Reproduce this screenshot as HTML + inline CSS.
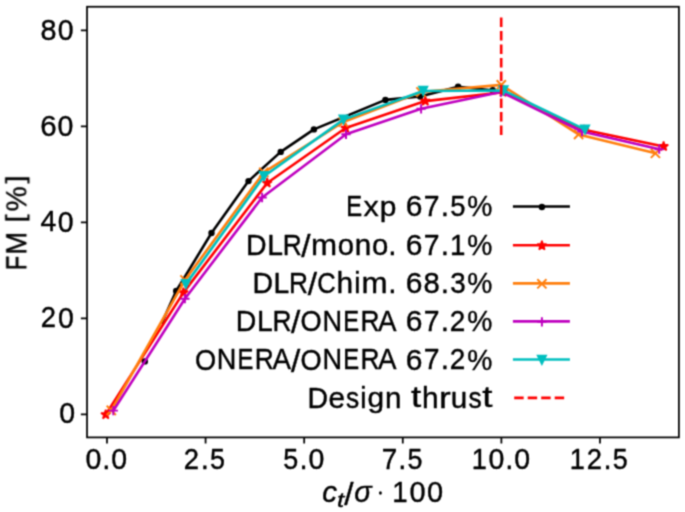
<!DOCTYPE html>
<html><head><meta charset="utf-8"><style>
html,body{margin:0;padding:0;background:#fff;width:685px;height:512px;overflow:hidden}
</style></head><body><div style="position:absolute;left:0;top:0;width:685px;height:512px">
<svg width="685" height="512" viewBox="0 0 685 512" style="position:absolute;left:0;top:0;font-family:'Liberation Sans', sans-serif"><style>text{stroke:#000;stroke-width:0.4px;vector-effect:non-scaling-stroke;stroke-linejoin:round}</style>
<rect width="685" height="512" fill="#fff"/>
<filter id="bl" x="0" y="0" width="685" height="512" filterUnits="userSpaceOnUse" color-interpolation-filters="sRGB"><feConvolveMatrix order="3" kernelMatrix="0.04387 0.12171 0.04387 0.12171 0.33767 0.12171 0.04387 0.12171 0.04387" divisor="1" edgeMode="duplicate" preserveAlpha="true"/></filter><g filter="url(#bl)"><rect width="685" height="512" fill="#fff"/>
<defs><clipPath id="clip"><rect x="87.02" y="6.75" width="591.88" height="430.65"/></clipPath></defs>
<g clip-path="url(#clip)">
<polyline points="162,322.5 176.2,291 211.5,233 248.5,181.1 280.7,151.9 313.9,129.4 385.4,99.9 420.1,96.5 458.1,86.7 492.7,90.3" fill="none" stroke="#000000" stroke-width="2.6" stroke-linejoin="round" stroke-linecap="square"/>
<circle cx="144.80" cy="361.40" r="3.2" fill="#000000"/>
<circle cx="176.20" cy="291.00" r="3.2" fill="#000000"/>
<circle cx="211.50" cy="233.00" r="3.2" fill="#000000"/>
<circle cx="248.50" cy="181.10" r="3.2" fill="#000000"/>
<circle cx="280.70" cy="151.90" r="3.2" fill="#000000"/>
<circle cx="313.90" cy="129.40" r="3.2" fill="#000000"/>
<circle cx="385.40" cy="99.90" r="3.2" fill="#000000"/>
<circle cx="420.10" cy="96.50" r="3.2" fill="#000000"/>
<circle cx="458.10" cy="86.70" r="3.2" fill="#000000"/>
<circle cx="492.70" cy="90.30" r="3.2" fill="#000000"/>
<polyline points="105.7,414.6 183.4,292.6 267.2,183 345.6,128 425.3,101.1 503,92.2 584,129.8 663.6,146.4" fill="none" stroke="#ff0000" stroke-width="2.6" stroke-linejoin="round" stroke-linecap="square"/>
<polygon points="105.70,409.70 106.80,413.09 110.36,413.09 107.48,415.18 108.58,418.56 105.70,416.47 102.82,418.56 103.92,415.18 101.04,413.09 104.60,413.09" fill="#ff0000" stroke="#ff0000" stroke-width="1.6" stroke-linejoin="bevel"/>
<polygon points="183.40,287.70 184.50,291.09 188.06,291.09 185.18,293.18 186.28,296.56 183.40,294.47 180.52,296.56 181.62,293.18 178.74,291.09 182.30,291.09" fill="#ff0000" stroke="#ff0000" stroke-width="1.6" stroke-linejoin="bevel"/>
<polygon points="267.20,178.10 268.30,181.49 271.86,181.49 268.98,183.58 270.08,186.96 267.20,184.87 264.32,186.96 265.42,183.58 262.54,181.49 266.10,181.49" fill="#ff0000" stroke="#ff0000" stroke-width="1.6" stroke-linejoin="bevel"/>
<polygon points="345.60,123.10 346.70,126.49 350.26,126.49 347.38,128.58 348.48,131.96 345.60,129.87 342.72,131.96 343.82,128.58 340.94,126.49 344.50,126.49" fill="#ff0000" stroke="#ff0000" stroke-width="1.6" stroke-linejoin="bevel"/>
<polygon points="425.30,96.20 426.40,99.59 429.96,99.59 427.08,101.68 428.18,105.06 425.30,102.97 422.42,105.06 423.52,101.68 420.64,99.59 424.20,99.59" fill="#ff0000" stroke="#ff0000" stroke-width="1.6" stroke-linejoin="bevel"/>
<polygon points="503.00,87.30 504.10,90.69 507.66,90.69 504.78,92.78 505.88,96.16 503.00,94.07 500.12,96.16 501.22,92.78 498.34,90.69 501.90,90.69" fill="#ff0000" stroke="#ff0000" stroke-width="1.6" stroke-linejoin="bevel"/>
<polygon points="584.00,124.90 585.10,128.29 588.66,128.29 585.78,130.38 586.88,133.76 584.00,131.67 581.12,133.76 582.22,130.38 579.34,128.29 582.90,128.29" fill="#ff0000" stroke="#ff0000" stroke-width="1.6" stroke-linejoin="bevel"/>
<polygon points="663.60,141.50 664.70,144.89 668.26,144.89 665.38,146.98 666.48,150.36 663.60,148.27 660.72,150.36 661.82,146.98 658.94,144.89 662.50,144.89" fill="#ff0000" stroke="#ff0000" stroke-width="1.6" stroke-linejoin="bevel"/>
<polyline points="111.3,410.4 185,280 263.8,172.4 343.3,122 421,92 501.3,84.9 578.6,134.4 655.4,153.3" fill="none" stroke="#ff7f0e" stroke-width="2.6" stroke-linejoin="round" stroke-linecap="square"/>
<path d="M106.70 405.80L115.90 415.00M106.70 415.00L115.90 405.80" stroke="#ff7f0e" stroke-width="1.95" fill="none"/>
<path d="M180.40 275.40L189.60 284.60M180.40 284.60L189.60 275.40" stroke="#ff7f0e" stroke-width="1.95" fill="none"/>
<path d="M259.20 167.80L268.40 177.00M259.20 177.00L268.40 167.80" stroke="#ff7f0e" stroke-width="1.95" fill="none"/>
<path d="M338.70 117.40L347.90 126.60M338.70 126.60L347.90 117.40" stroke="#ff7f0e" stroke-width="1.95" fill="none"/>
<path d="M416.40 87.40L425.60 96.60M416.40 96.60L425.60 87.40" stroke="#ff7f0e" stroke-width="1.95" fill="none"/>
<path d="M496.70 80.30L505.90 89.50M496.70 89.50L505.90 80.30" stroke="#ff7f0e" stroke-width="1.95" fill="none"/>
<path d="M574.00 129.80L583.20 139.00M574.00 139.00L583.20 129.80" stroke="#ff7f0e" stroke-width="1.95" fill="none"/>
<path d="M650.80 148.70L660.00 157.90M650.80 157.90L660.00 148.70" stroke="#ff7f0e" stroke-width="1.95" fill="none"/>
<polyline points="113.3,410.6 184.9,298.7 262.1,197.5 346,134.3 421.1,108.8 501,92 582,131.5 659.2,149.2" fill="none" stroke="#bf00bf" stroke-width="2.6" stroke-linejoin="round" stroke-linecap="square"/>
<path d="M108.65 410.60H117.95M113.30 405.95V415.25" stroke="#bf00bf" stroke-width="1.95" fill="none"/>
<path d="M180.25 298.70H189.55M184.90 294.05V303.35" stroke="#bf00bf" stroke-width="1.95" fill="none"/>
<path d="M257.45 197.50H266.75M262.10 192.85V202.15" stroke="#bf00bf" stroke-width="1.95" fill="none"/>
<path d="M341.35 134.30H350.65M346.00 129.65V138.95" stroke="#bf00bf" stroke-width="1.95" fill="none"/>
<path d="M416.45 108.80H425.75M421.10 104.15V113.45" stroke="#bf00bf" stroke-width="1.95" fill="none"/>
<path d="M496.35 92.00H505.65M501.00 87.35V96.65" stroke="#bf00bf" stroke-width="1.95" fill="none"/>
<path d="M577.35 131.50H586.65M582.00 126.85V136.15" stroke="#bf00bf" stroke-width="1.95" fill="none"/>
<path d="M654.55 149.20H663.85M659.20 144.55V153.85" stroke="#bf00bf" stroke-width="1.95" fill="none"/>
<polyline points="185.9,284.1 264,176.2 343.5,119.6 423.2,91 503.5,90.5 585,129.6" fill="none" stroke="#00bfbf" stroke-width="2.6" stroke-linejoin="round" stroke-linecap="square"/>
<polygon points="185.90,288.50 181.50,279.70 190.30,279.70" fill="#00bfbf" stroke="#00bfbf" stroke-width="1.5" stroke-linejoin="miter"/>
<polygon points="264.00,180.60 259.60,171.80 268.40,171.80" fill="#00bfbf" stroke="#00bfbf" stroke-width="1.5" stroke-linejoin="miter"/>
<polygon points="343.50,124.00 339.10,115.20 347.90,115.20" fill="#00bfbf" stroke="#00bfbf" stroke-width="1.5" stroke-linejoin="miter"/>
<polygon points="423.20,95.40 418.80,86.60 427.60,86.60" fill="#00bfbf" stroke="#00bfbf" stroke-width="1.5" stroke-linejoin="miter"/>
<polygon points="503.50,94.90 499.10,86.10 507.90,86.10" fill="#00bfbf" stroke="#00bfbf" stroke-width="1.5" stroke-linejoin="miter"/>
<polygon points="585.00,134.00 580.60,125.20 589.40,125.20" fill="#00bfbf" stroke="#00bfbf" stroke-width="1.5" stroke-linejoin="miter"/>
<line x1="501.2" y1="17.5" x2="501.2" y2="135.2" stroke="#ff0000" stroke-width="2.6" stroke-dasharray="9.45 4.05"/>
</g>
<rect x="87.02" y="6.75" width="591.88" height="430.65" fill="none" stroke="#000" stroke-width="1.75"/>
<path d="M80.87 414.37H87.02M80.87 318.39H87.02M80.87 222.41H87.02M80.87 126.43H87.02M80.87 30.45H87.02M106.98 437.40V443.55M205.58 437.40V443.55M304.18 437.40V443.55M402.78 437.40V443.55M501.38 437.40V443.55M599.98 437.40V443.55" stroke="#000" stroke-width="1.75" fill="none"/>
<text transform="translate(40.52 39.66) scale(0.9921 0.9946)" font-size="29.0">8</text>
<text transform="translate(57.78 39.66) scale(0.9814 0.9946)" font-size="29.0">0</text>
<text transform="translate(40.13 135.61) scale(1.0158 0.9946)" font-size="29.0">6</text>
<text transform="translate(57.58 135.61) scale(0.9814 0.9946)" font-size="29.0">0</text>
<text transform="translate(40.60 231.46) scale(0.9816 0.9865)" font-size="29.0">4</text>
<text transform="translate(57.78 231.56) scale(0.9814 0.9946)" font-size="29.0">0</text>
<text transform="translate(40.63 327.41) scale(0.9460 0.9896)" font-size="29.0">2</text>
<text transform="translate(57.88 327.51) scale(0.9814 0.9946)" font-size="29.0">0</text>
<text transform="translate(59.18 423.46) scale(0.9814 0.9946)" font-size="29.0">0</text>
<text transform="translate(85.56 469.13) scale(0.9814 0.9946)" font-size="29.0">0</text>
<text transform="translate(102.28 469.03) scale(1.0074 1.0798)" font-size="29.0">.</text>
<text transform="translate(111.32 469.13) scale(0.9814 0.9946)" font-size="29.0">0</text>
<text transform="translate(183.87 469.03) scale(0.9460 0.9896)" font-size="29.0">2</text>
<text transform="translate(200.67 469.03) scale(1.0074 1.0798)" font-size="29.0">.</text>
<text transform="translate(210.04 469.13) scale(0.9262 0.9916)" font-size="29.0">5</text>
<text transform="translate(283.19 469.13) scale(0.9262 0.9916)" font-size="29.0">5</text>
<text transform="translate(299.58 469.03) scale(1.0074 1.0798)" font-size="29.0">.</text>
<text transform="translate(308.61 469.13) scale(0.9814 0.9946)" font-size="29.0">0</text>
<text transform="translate(381.64 469.03) scale(0.9600 0.9865)" font-size="29.0">7</text>
<text transform="translate(398.25 469.03) scale(1.0074 1.0798)" font-size="29.0">.</text>
<text transform="translate(407.62 469.13) scale(0.9262 0.9916)" font-size="29.0">5</text>
<text transform="translate(471.65 469.03) scale(0.9374 0.9865)" font-size="29.0">1</text>
<text transform="translate(488.60 469.13) scale(0.9814 0.9946)" font-size="29.0">0</text>
<text transform="translate(505.33 469.03) scale(1.0074 1.0798)" font-size="29.0">.</text>
<text transform="translate(514.36 469.13) scale(0.9814 0.9946)" font-size="29.0">0</text>
<text transform="translate(569.78 469.03) scale(0.9374 0.9865)" font-size="29.0">1</text>
<text transform="translate(586.66 469.03) scale(0.9460 0.9896)" font-size="29.0">2</text>
<text transform="translate(603.46 469.03) scale(1.0074 1.0798)" font-size="29.0">.</text>
<text transform="translate(612.83 469.13) scale(0.9262 0.9916)" font-size="29.0">5</text>
<text transform="translate(346.34 215.70) scale(0.8218 1.0048)" font-size="29.0">E</text>
<text transform="translate(363.42 215.70) scale(1.0519 0.9816)" font-size="29.0">x</text>
<text transform="translate(379.81 215.54) scale(1.0317 0.9775)" font-size="29.0">p</text>
<text transform="translate(405.84 215.80) scale(1.0346 1.0130)" font-size="29.0">6</text>
<text transform="translate(423.74 215.70) scale(0.9778 1.0048)" font-size="29.0">7</text>
<text transform="translate(440.66 215.70) scale(1.0261 1.0998)" font-size="29.0">.</text>
<text transform="translate(450.20 215.80) scale(0.9434 1.0100)" font-size="29.0">5</text>
<text transform="translate(467.18 215.92) scale(0.9738 1.0250)" font-size="29.0">%</text>
<line x1="514.2" y1="206.50" x2="568.6" y2="206.50" stroke="#000000" stroke-width="2.6" stroke-linecap="square"/>
<circle cx="541.90" cy="206.95" r="3.2" fill="#000000"/>
<text transform="translate(246.07 255.00) scale(0.9811 1.0048)" font-size="29.0">D</text>
<text transform="translate(267.26 255.00) scale(0.9756 1.0048)" font-size="29.0">L</text>
<text transform="translate(282.74 255.00) scale(0.9069 1.0048)" font-size="29.0">R</text>
<text transform="translate(301.31 257.25) scale(1.1499 1.0611)" font-size="29.0">/</text>
<text transform="translate(310.99 255.00) scale(1.0804 0.9870)" font-size="29.0">m</text>
<text transform="translate(337.65 255.11) scale(1.0081 0.9939)" font-size="29.0">o</text>
<text transform="translate(354.71 255.00) scale(1.0224 0.9870)" font-size="29.0">n</text>
<text transform="translate(371.90 255.11) scale(1.0081 0.9939)" font-size="29.0">o</text>
<text transform="translate(388.18 255.00) scale(1.0261 1.0998)" font-size="29.0">.</text>
<text transform="translate(405.84 255.10) scale(1.0346 1.0130)" font-size="29.0">6</text>
<text transform="translate(423.74 255.00) scale(0.9778 1.0048)" font-size="29.0">7</text>
<text transform="translate(440.66 255.00) scale(1.0261 1.0998)" font-size="29.0">.</text>
<text transform="translate(450.09 255.00) scale(0.9547 1.0048)" font-size="29.0">1</text>
<text transform="translate(467.18 255.22) scale(0.9738 1.0250)" font-size="29.0">%</text>
<line x1="514.2" y1="245.20" x2="568.6" y2="245.20" stroke="#ff0000" stroke-width="2.6" stroke-linecap="square"/>
<polygon points="541.90,240.75 543.00,244.14 546.56,244.14 543.68,246.23 544.78,249.61 541.90,247.52 539.02,249.61 540.12,246.23 537.24,244.14 540.80,244.14" fill="#ff0000" stroke="#ff0000" stroke-width="1.6" stroke-linejoin="bevel"/>
<text transform="translate(252.39 293.00) scale(0.9811 1.0048)" font-size="29.0">D</text>
<text transform="translate(273.58 293.00) scale(0.9756 1.0048)" font-size="29.0">L</text>
<text transform="translate(289.07 293.00) scale(0.9069 1.0048)" font-size="29.0">R</text>
<text transform="translate(307.63 295.25) scale(1.1499 1.0611)" font-size="29.0">/</text>
<text transform="translate(317.14 293.10) scale(0.8803 1.0130)" font-size="29.0">C</text>
<text transform="translate(336.53 293.00) scale(1.0295 0.9943)" font-size="29.0">h</text>
<text transform="translate(354.24 293.00) scale(0.9693 0.9943)" font-size="29.0">i</text>
<text transform="translate(361.58 293.00) scale(1.0804 0.9870)" font-size="29.0">m</text>
<text transform="translate(388.18 293.00) scale(1.0261 1.0998)" font-size="29.0">.</text>
<text transform="translate(405.84 293.10) scale(1.0346 1.0130)" font-size="29.0">6</text>
<text transform="translate(423.53 293.10) scale(1.0104 1.0130)" font-size="29.0">8</text>
<text transform="translate(440.66 293.00) scale(1.0261 1.0998)" font-size="29.0">.</text>
<text transform="translate(450.21 293.10) scale(0.9600 1.0130)" font-size="29.0">3</text>
<text transform="translate(467.18 293.22) scale(0.9738 1.0250)" font-size="29.0">%</text>
<line x1="514.2" y1="283.35" x2="568.6" y2="283.35" stroke="#ff7f0e" stroke-width="2.6" stroke-linecap="square"/>
<path d="M537.30 279.20L546.50 288.40M537.30 288.40L546.50 279.20" stroke="#ff7f0e" stroke-width="1.95" fill="none"/>
<text transform="translate(235.80 331.20) scale(0.9811 1.0048)" font-size="29.0">D</text>
<text transform="translate(256.98 331.20) scale(0.9756 1.0048)" font-size="29.0">L</text>
<text transform="translate(272.47 331.20) scale(0.9069 1.0048)" font-size="29.0">R</text>
<text transform="translate(291.03 333.45) scale(1.1499 1.0611)" font-size="29.0">/</text>
<text transform="translate(300.56 331.30) scale(0.9374 1.0130)" font-size="29.0">O</text>
<text transform="translate(322.42 331.20) scale(0.9367 1.0048)" font-size="29.0">N</text>
<text transform="translate(343.26 331.20) scale(0.8218 1.0048)" font-size="29.0">E</text>
<text transform="translate(360.43 331.20) scale(0.9069 1.0048)" font-size="29.0">R</text>
<text transform="translate(378.05 331.20) scale(0.9553 1.0048)" font-size="29.0">A</text>
<text transform="translate(405.84 331.30) scale(1.0346 1.0130)" font-size="29.0">6</text>
<text transform="translate(423.74 331.20) scale(0.9778 1.0048)" font-size="29.0">7</text>
<text transform="translate(440.66 331.20) scale(1.0261 1.0998)" font-size="29.0">.</text>
<text transform="translate(449.78 331.20) scale(0.9635 1.0080)" font-size="29.0">2</text>
<text transform="translate(467.18 331.42) scale(0.9738 1.0250)" font-size="29.0">%</text>
<line x1="514.2" y1="321.40" x2="568.6" y2="321.40" stroke="#bf00bf" stroke-width="2.6" stroke-linecap="square"/>
<path d="M537.25 321.85H546.55M541.90 317.20V326.50" stroke="#bf00bf" stroke-width="1.95" fill="none"/>
<text transform="translate(194.89 369.50) scale(0.9374 1.0130)" font-size="29.0">O</text>
<text transform="translate(216.75 369.40) scale(0.9367 1.0048)" font-size="29.0">N</text>
<text transform="translate(237.60 369.40) scale(0.8218 1.0048)" font-size="29.0">E</text>
<text transform="translate(254.77 369.40) scale(0.9069 1.0048)" font-size="29.0">R</text>
<text transform="translate(272.38 369.40) scale(0.9553 1.0048)" font-size="29.0">A</text>
<text transform="translate(291.03 371.65) scale(1.1499 1.0611)" font-size="29.0">/</text>
<text transform="translate(300.56 369.50) scale(0.9374 1.0130)" font-size="29.0">O</text>
<text transform="translate(322.42 369.40) scale(0.9367 1.0048)" font-size="29.0">N</text>
<text transform="translate(343.26 369.40) scale(0.8218 1.0048)" font-size="29.0">E</text>
<text transform="translate(360.43 369.40) scale(0.9069 1.0048)" font-size="29.0">R</text>
<text transform="translate(378.05 369.40) scale(0.9553 1.0048)" font-size="29.0">A</text>
<text transform="translate(405.84 369.50) scale(1.0346 1.0130)" font-size="29.0">6</text>
<text transform="translate(423.74 369.40) scale(0.9778 1.0048)" font-size="29.0">7</text>
<text transform="translate(440.66 369.40) scale(1.0261 1.0998)" font-size="29.0">.</text>
<text transform="translate(449.78 369.40) scale(0.9635 1.0080)" font-size="29.0">2</text>
<text transform="translate(467.18 369.62) scale(0.9738 1.0250)" font-size="29.0">%</text>
<line x1="514.2" y1="359.50" x2="568.6" y2="359.50" stroke="#00bfbf" stroke-width="2.6" stroke-linecap="square"/>
<polygon points="541.90,364.35 537.50,355.55 546.30,355.55" fill="#00bfbf" stroke="#00bfbf" stroke-width="1.5" stroke-linejoin="miter"/>
<text transform="translate(307.42 407.50) scale(0.9811 1.0048)" font-size="29.0">D</text>
<text transform="translate(328.49 407.61) scale(1.0243 0.9939)" font-size="29.0">e</text>
<text transform="translate(345.91 407.61) scale(0.9090 0.9966)" font-size="29.0">s</text>
<text transform="translate(360.19 407.50) scale(0.9693 0.9943)" font-size="29.0">i</text>
<text transform="translate(367.38 407.33) scale(1.0306 0.9788)" font-size="29.0">g</text>
<text transform="translate(385.10 407.50) scale(1.0224 0.9870)" font-size="29.0">n</text>
<text transform="translate(410.93 407.27) scale(1.2674 1.0176)" font-size="29.0">t</text>
<text transform="translate(421.95 407.50) scale(1.0295 0.9943)" font-size="29.0">h</text>
<text transform="translate(439.11 407.50) scale(1.2150 0.9870)" font-size="29.0">r</text>
<text transform="translate(450.67 407.60) scale(1.0224 1.0120)" font-size="29.0">u</text>
<text transform="translate(468.45 407.61) scale(0.9090 0.9966)" font-size="29.0">s</text>
<text transform="translate(482.20 407.27) scale(1.2674 1.0176)" font-size="29.0">t</text>
<line x1="514.2" y1="397.90" x2="565" y2="397.90" stroke="#ff0000" stroke-width="2.6" stroke-dasharray="9.45 4.05"/>
<g transform="translate(26.3 270.90) rotate(-90)"><text transform="translate(0.77 0.00) scale(0.8128 1.0048)" font-size="29.0">F</text><text transform="translate(16.27 0.00) scale(0.9455 1.0048)" font-size="29.0">M</text><text transform="translate(48.61 -1.83) scale(0.9879 0.9070)" font-size="29.0">[</text><text transform="translate(59.53 0.22) scale(0.9738 1.0250)" font-size="29.0">%</text><text transform="translate(87.59 -1.83) scale(0.9879 0.9070)" font-size="29.0">]</text></g>
<text transform="translate(322.24 502.39) scale(1.0193 0.9939)" font-size="29.0" font-style="italic">c</text>
<text transform="translate(337.12 506.68) scale(0.8919 0.7102)" font-size="29.0" font-style="italic">t</text>
<text transform="translate(344.17 504.53) scale(1.1499 1.0611)" font-size="29.0">/</text>
<text transform="translate(354.32 502.39) scale(0.9922 0.9896)" font-size="29.0" font-style="italic">σ</text>
<text transform="translate(392.13 502.28) scale(0.9547 1.0048)" font-size="29.0">1</text>
<text transform="translate(409.40 502.38) scale(0.9996 1.0130)" font-size="29.0">0</text>
<text transform="translate(426.90 502.38) scale(0.9996 1.0130)" font-size="29.0">0</text>
<ellipse cx="380.4" cy="492.95" rx="1.45" ry="1.72" fill="#000"/>
</g>
</svg>
</div></body></html>
